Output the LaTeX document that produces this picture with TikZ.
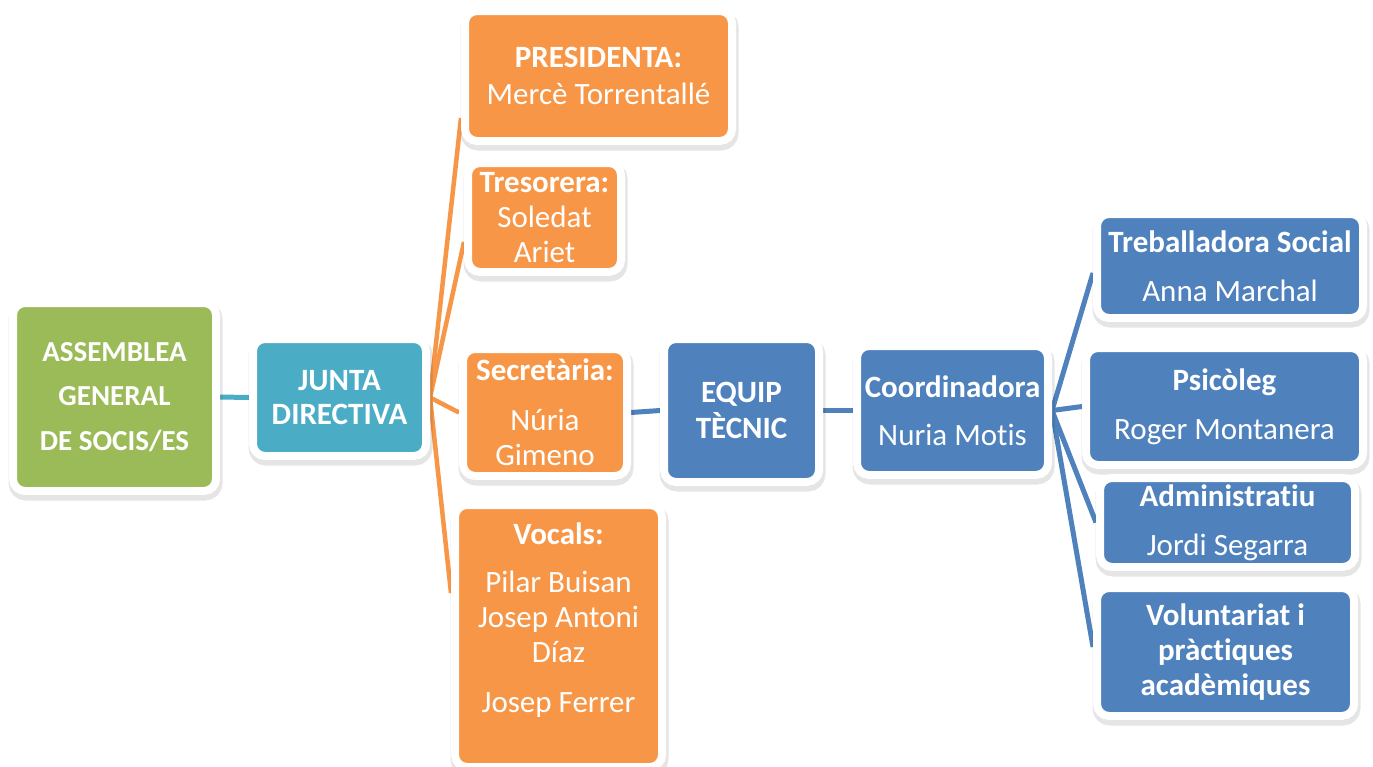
\documentclass[tikz,border=0pt]{standalone}
\usepackage{fontspec}
\setmainfont{Carlito}[RawFeature={-liga;-clig;-calt;-dlig;-rlig}]
\usetikzlibrary{calc,shadows}
\pgfdeclarelayer{background}
\pgfdeclarelayer{paper}
\pgfsetlayers{paper,background,main}
\definecolor{cgreen}{HTML}{9BBB59}
\definecolor{cteal}{HTML}{4BACC6}
\definecolor{corange}{HTML}{F79646}
\definecolor{cblue}{HTML}{4F81BD}
\begin{document}
\begin{tikzpicture}[x=1pt,y=-1pt,
  box/.style={draw=white, line width=8pt, rounded corners=12pt, inner sep=0pt,
    align=center, text=white, font={\fontsize{31}{35}\selectfont},
    general shadow={draw=black, fill=black, line width=11pt, opacity=.10, shadow xshift=1pt, shadow yshift=-4pt}},
  greenbox/.style={box, fill=cgreen},
  tealbox/.style={box, fill=cteal},
  orangebox/.style={box, fill=corange},
  bluebox/.style={box, fill=cblue},
  tealline/.style={draw=cteal, line width=5pt},
  orangeline/.style={draw=corange, line width=4.5pt},
  blueline/.style={draw=cblue, line width=5pt}]
\useasboundingbox (0,0) rectangle (1373,766);
\begin{pgfonlayer}{paper}
\fill[white] (0,0) rectangle (1373,766);
\end{pgfonlayer}

\node[greenbox, minimum width=203pt, minimum height=188pt, font={\fontsize{29}{44.5}\selectfont\bfseries}] (assem) at (114.5,397) {ASSEMBLEA\\GENERAL\\DE SOCIS/ES};
\node[tealbox, minimum width=173pt, minimum height=117pt, font={\fontsize{31}{34}\selectfont\bfseries}] (junta) at (339.5,397.5) {JUNTA\\DIRECTIVA};

\node[orangebox, minimum width=267pt, minimum height=130pt] (pres) at (598.5,76) {\textbf{PRESIDENTA:}\\[2pt]Mercè Torrentallé};
\node[orangebox, minimum width=153pt, minimum height=109pt] (tres) at (544.5,217.5) {\textbf{Tresorera:}\\Soledat\\Ariet};
\node[orangebox, minimum width=164pt, minimum height=127pt] (secr) at (545,412.5) {\textbf{Secretària:}\\[15pt]Núria\\Gimeno};
\node[orangebox, minimum width=207pt, minimum height=262pt] (vocals) at (558.5,636) {\textbf{Vocals:}\\[13pt]Pilar Buisan\\Josep Antoni\\Díaz\\[15pt]Josep Ferrer\\[2pt]\mbox{}};

\node[bluebox, minimum width=155pt, minimum height=143pt, font={\fontsize{31}{36}\selectfont\bfseries}] (equip) at (741.5,410.5) {EQUIP\\TÈCNIC};
\node[bluebox, minimum width=191pt, minimum height=129pt] (coord) at (952.5,410.5) {\textbf{Coordinadora}\\[13pt]Nuria Mot\kern0pt is};

\node[bluebox, minimum width=266pt, minimum height=104pt] (treb) at (1230,266) {\textbf{Treballadora Social}\\[14pt]Anna Marchal};
\node[bluebox, minimum width=277pt, minimum height=117pt] (psic) at (1224.5,406.5) {\textbf{Psicòleg}\\[14pt]Roger Montanera};
\node[bluebox, minimum width=255pt, minimum height=89pt] (admin) at (1227.5,522.5) {\textbf{Administrat\kern0pt iu}\\[14pt]Jordi Segarra};
\node[bluebox, minimum width=257pt, minimum height=128pt, font={\fontsize{31}{35}\selectfont\bfseries}] (volun) at (1225.5,652) {Voluntariat i\\pràct\kern0pt iques\\acadèmiques};

\begin{pgfonlayer}{background}
\draw[tealline] (assem.east) -- (junta.west);
\draw[orangeline] (junta.east) -- ($(pres.west)+(0,42)$);
\draw[orangeline] (junta.east) -- ($(tres.west)+(0,24.5)$);
\draw[orangeline] (junta.east) -- (secr.west);
\draw[orangeline] (junta.east) -- ($(vocals.west)+(0,-43)$);
\draw[blueline] (secr.east) -- (equip.west);
\draw[blueline] (equip.east) -- (coord.west);
\draw[blueline] (coord.east) -- ($(treb.west)+(0,7)$);
\draw[blueline] (coord.east) -- (psic.west);
\draw[blueline] (coord.east) -- (admin.west);
\draw[blueline] (coord.east) -- ($(volun.west)+(0,-5)$);
\end{pgfonlayer}
\end{tikzpicture}
\end{document}
